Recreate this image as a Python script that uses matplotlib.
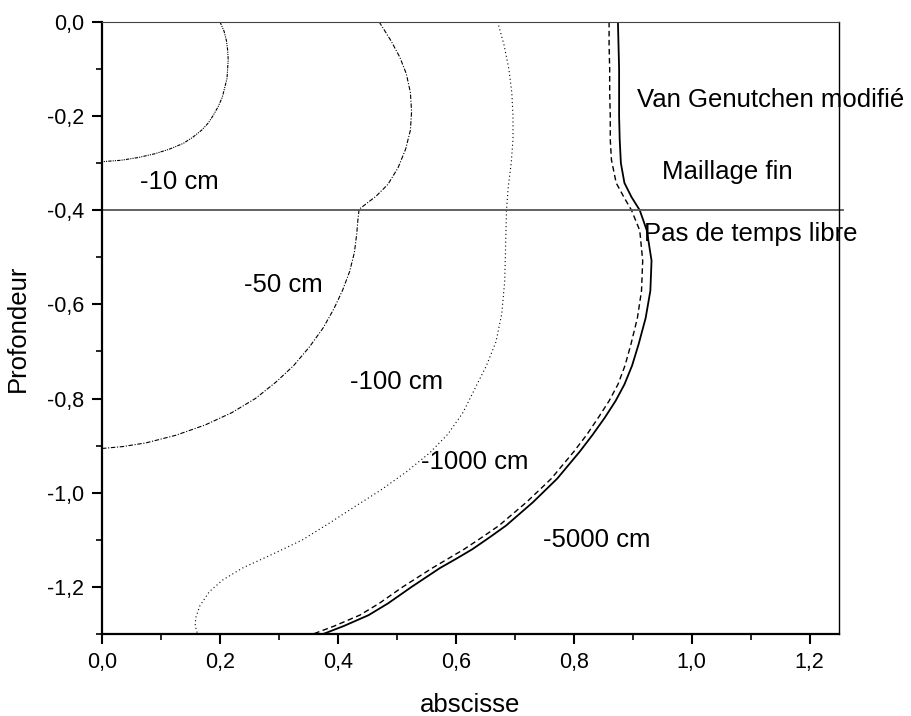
import numpy as np
import matplotlib
matplotlib.use("Agg")
import matplotlib.pyplot as plt
from matplotlib.ticker import MultipleLocator, FuncFormatter

plt.rcParams['font.family'] = ['Liberation Sans', 'DejaVu Sans']

# isovaleurs de pression
c10_x = [0.200, 0.207, 0.211, 0.213, 0.214, 0.213, 0.212, 0.208, 0.204, 0.197, 0.188, 0.180,
         0.169, 0.154, 0.138, 0.115, 0.090, 0.062, 0.032, 0.0]
c10_y = [0.0, -0.02, -0.04, -0.06, -0.08, -0.10, -0.12, -0.14, -0.16, -0.18, -0.20, -0.215,
         -0.23, -0.245, -0.258, -0.27, -0.28, -0.288, -0.294, -0.297]

c50_x = [0.470, 0.490, 0.505, 0.516, 0.523, 0.525, 0.523, 0.515, 0.502, 0.485, 0.465, 0.436,
         0.434, 0.432, 0.428, 0.420, 0.408, 0.393, 0.375, 0.352, 0.325, 0.295, 0.260, 0.220,
         0.175, 0.125, 0.075, 0.035, 0.0]
c50_y = [0.0, -0.04, -0.075, -0.11, -0.15, -0.19, -0.23, -0.27, -0.31, -0.345, -0.37, -0.398,
         -0.42, -0.45, -0.49, -0.53, -0.57, -0.61, -0.65, -0.69, -0.73, -0.765, -0.8, -0.83,
         -0.856, -0.878, -0.894, -0.902, -0.906]

c100_x = [0.671, 0.682, 0.690, 0.695, 0.697, 0.697, 0.694, 0.689, 0.686, 0.685, 0.684, 0.683,
          0.678, 0.668, 0.652, 0.632, 0.612, 0.587, 0.556, 0.517, 0.472, 0.428, 0.385, 0.340,
          0.290, 0.238, 0.205, 0.182, 0.166, 0.159, 0.158, 0.162]
c100_y = [0.0, -0.05, -0.1, -0.15, -0.2, -0.25, -0.3, -0.35, -0.4, -0.45, -0.5, -0.55,
          -0.62, -0.68, -0.73, -0.78, -0.83, -0.875, -0.915, -0.955, -0.995, -1.03, -1.065, -1.1,
          -1.13, -1.16, -1.185, -1.21, -1.24, -1.265, -1.282, -1.3]

c1000_x = [0.860, 0.860, 0.861, 0.861, 0.862, 0.862, 0.864, 0.872, 0.885, 0.898, 0.912, 0.917,
           0.915, 0.908, 0.897, 0.887, 0.875, 0.860, 0.842, 0.822, 0.800, 0.762, 0.720, 0.673,
           0.644, 0.614, 0.587, 0.560, 0.510, 0.470, 0.437, 0.394, 0.358]
c1000_y = [0.0, -0.05, -0.1, -0.15, -0.2, -0.25, -0.293, -0.342, -0.372, -0.4, -0.443, -0.507,
           -0.571, -0.629, -0.685, -0.73, -0.77, -0.805, -0.84, -0.877, -0.913, -0.97, -1.02, -1.07,
           -1.095, -1.12, -1.14, -1.16, -1.2, -1.235, -1.26, -1.283, -1.3]

c5000_x = [0.875, 0.876, 0.877, 0.877, 0.877, 0.878, 0.880, 0.886, 0.898, 0.912, 0.924, 0.932,
           0.930, 0.922, 0.910, 0.899, 0.886, 0.871, 0.853, 0.832, 0.810, 0.772, 0.731, 0.685,
           0.657, 0.628, 0.601, 0.573, 0.525, 0.485, 0.452, 0.410, 0.375]
c5000_y = [0.0, -0.05, -0.1, -0.15, -0.2, -0.25, -0.3, -0.342, -0.372, -0.4, -0.443, -0.507,
           -0.571, -0.629, -0.685, -0.73, -0.77, -0.805, -0.84, -0.877, -0.913, -0.97, -1.02, -1.07,
           -1.095, -1.12, -1.14, -1.16, -1.2, -1.235, -1.26, -1.283, -1.3]

labels = ['-10 cm', '-50 cm', '-100 cm', '-1000 cm', '-5000 cm']
label_x = [0.132, 0.308, 0.50, 0.632, 0.839]
label_y = [-0.34, -0.558, -0.764, -0.935, -1.10]

notes = ['Van Genutchen modifié', 'Maillage fin', 'Pas de temps libre']
note_x = [1.134, 1.061, 1.10]
note_y = [-0.165, -0.319, -0.45]

fig = plt.figure(figsize=(9.11, 7.16), dpi=100)
ax = fig.add_axes([0.112, 0.1145, 0.809, 0.855])

ax.plot(c10_x, c10_y, color='k', lw=0.8, dashes=(3, 1, 1, 1, 1, 1))
ax.plot(c50_x, c50_y, color='k', lw=0.8, dashes=(4, 1.5, 1, 1.5))
ax.plot(c100_x, c100_y, color='k', lw=0.8, dashes=(1, 2.5))
ax.plot(c1000_x, c1000_y, color='k', lw=1.0, dashes=(4, 2.5))
ax.plot(c5000_x, c5000_y, color='k', lw=1.3)

# limite de couche
ax.axhline(-0.4, xmin=0, xmax=1.006, color='#555555', lw=1.3, clip_on=False)

for t, x, y in zip(labels, label_x, label_y):
    ax.text(x, y, t, fontsize=18.5, ha='center', va='center')
for t, x, y in zip(notes, note_x, note_y):
    ax.text(x, y, t, fontsize=18.5, ha='center', va='center')

ax.set_xlim(0, 1.25)
ax.set_ylim(-1.3, 0)
ax.xaxis.set_major_locator(MultipleLocator(0.2))
ax.xaxis.set_minor_locator(MultipleLocator(0.1))
ax.yaxis.set_major_locator(MultipleLocator(0.2))
ax.yaxis.set_minor_locator(MultipleLocator(0.1))
fmt = FuncFormatter(lambda v, p: ('%.1f' % v).replace('.', ',').replace('-0,0', '0,0'))
ax.xaxis.set_major_formatter(fmt)
ax.yaxis.set_major_formatter(fmt)
ax.tick_params(which='major', direction='out', length=7, width=1.5, labelsize=15.5, pad=6)
ax.tick_params(which='minor', direction='out', length=4, width=1.2)
ax.tick_params(top=False, right=False)

ax.spines['left'].set_linewidth(1.6)
ax.spines['bottom'].set_linewidth(1.6)
ax.spines['top'].set_linewidth(0.8)
ax.spines['top'].set_color('#444444')
ax.spines['right'].set_linewidth(1.0)

ax.set_xlabel('abscisse', fontsize=18.5, labelpad=14)
ax.set_ylabel('Profondeur', fontsize=18.5, labelpad=12)

fig.savefig('out.png', dpi=100)
